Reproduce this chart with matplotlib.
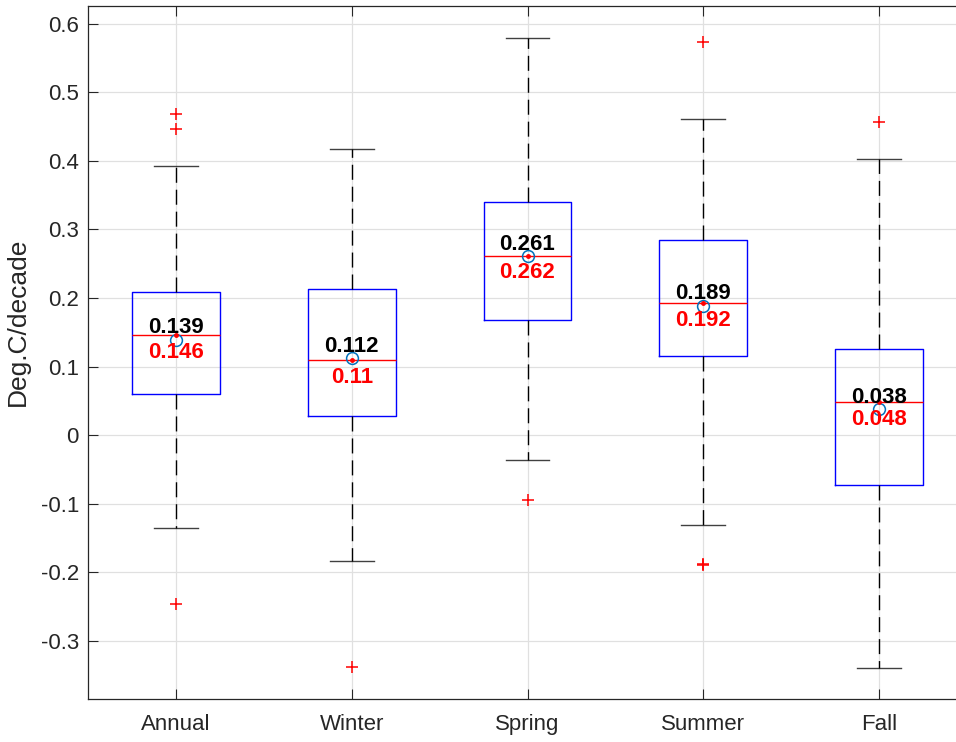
import matplotlib
matplotlib.use("Agg")
import matplotlib.pyplot as plt

plt.rcParams['font.family'] = ['Liberation Sans', 'DejaVu Sans']

# seasonal trend summary (Deg.C/decade)
seasons = ["Annual", "Winter", "Spring", "Summer", "Fall"]
medians = [0.146, 0.11, 0.262, 0.192, 0.048]
means = [0.139, 0.112, 0.261, 0.189, 0.038]
q1 = [0.060, 0.028, 0.168, 0.115, -0.073]
q3 = [0.209, 0.213, 0.340, 0.285, 0.125]
whisk_lo = [-0.136, -0.184, -0.036, -0.131, -0.340]
whisk_hi = [0.393, 0.417, 0.580, 0.461, 0.403]
outliers = [
    [0.468, 0.446, -0.247],
    [-0.339],
    [-0.095],
    [0.574, -0.188, -0.190],
    [0.457],
]

stats = []
for i, name in enumerate(seasons):
    stats.append(dict(label=name, med=medians[i], mean=means[i],
                      q1=q1[i], q3=q3[i], whislo=whisk_lo[i],
                      whishi=whisk_hi[i], fliers=outliers[i]))

fig = plt.figure(figsize=(9.56, 7.42), dpi=100)
ax = fig.add_axes([88 / 956, 43 / 742, 879 / 956, 693 / 742])

axis_col = '#262626'
ax.bxp(stats, positions=range(1, 6), widths=0.5, capwidths=0.25,
       showmeans=True,
       boxprops=dict(color='#0000FF', linewidth=1.0),
       medianprops=dict(color='#FF0000', linewidth=1.0),
       whiskerprops=dict(color='black', linewidth=1.0, linestyle=(0, (10.8, 5))),
       capprops=dict(color='black', linewidth=1.0, alpha=0.75),
       flierprops=dict(marker='+', markeredgecolor='#FF0000', markersize=8,
                       markeredgewidth=1.1, linestyle='none'),
       meanprops=dict(marker='o', markerfacecolor='none',
                      markeredgecolor='#0072BD', markersize=8.5,
                      markeredgewidth=1.1))

# small dot on the median line at each box centre
ax.plot(range(1, 6), medians, linestyle='none', marker='o',
        markersize=2.5, color='#FF0000', zorder=4)

for x, mn, md in zip(range(1, 6), means, medians):
    ax.annotate(f'{mn:g}', (x, mn), xytext=(0, 4.7), textcoords='offset points',
                ha='center', va='baseline', fontsize=16, fontweight='bold',
                color='black', zorder=5)
    ax.annotate(f'{md:g}', (x, md), xytext=(0, -16.5), textcoords='offset points',
                ha='center', va='baseline', fontsize=16, fontweight='bold',
                color='#FF0000', zorder=5)

ax.set_xlim(0.5, 5.5)
ax.set_ylim(-0.385, 0.626)
ax.set_yticks([-0.3, -0.2, -0.1, 0, 0.1, 0.2, 0.3, 0.4, 0.5, 0.6])
ax.set_yticklabels(['-0.3', '-0.2', '-0.1', '0', '0.1', '0.2', '0.3',
                    '0.4', '0.5', '0.6'])
ax.set_xticks(range(1, 6))
ax.set_xticklabels(seasons)

ax.grid(True, color='#e0e0e0', linewidth=0.9)
ax.set_axisbelow(True)
ax.tick_params(direction='in', length=7, width=0.8, colors=axis_col,
               labelsize=16, top=True, right=True)
ax.tick_params(axis='y', pad=6.5)
ax.tick_params(axis='x', pad=10.5)
for side in ['left', 'bottom', 'top', 'right']:
    ax.spines[side].set_color(axis_col)
    ax.spines[side].set_linewidth(0.9)

ax.set_ylabel('Deg.C/decade', fontsize=19, color=axis_col)
ax.yaxis.set_label_coords(-0.066, 0.545)

fig.savefig('out.png', dpi=100)
